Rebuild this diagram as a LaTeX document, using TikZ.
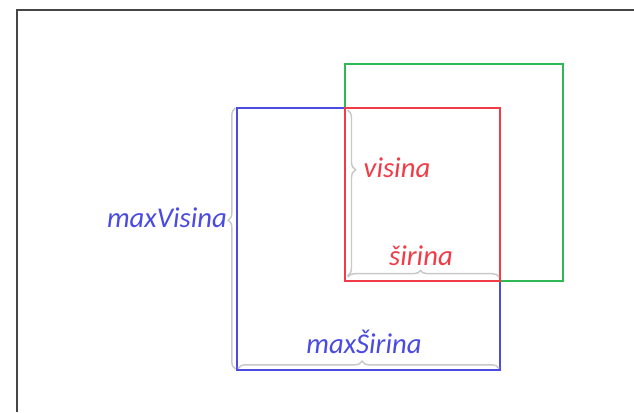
\documentclass[tikz,border=0pt]{standalone}
\usepackage{fontspec}
\setmainfont{Carlito}
\usetikzlibrary{decorations.pathreplacing}
\definecolor{bl}{RGB}{75,75,225}
\definecolor{rd}{RGB}{240,60,70}
\definecolor{gr}{RGB}{45,185,85}
\definecolor{br}{RGB}{200,200,200}
\definecolor{fr}{RGB}{70,70,70}
\tikzset{
  bracel/.style={draw=br, line width=1.1pt, decorate},
  lbl/.style={font=\fontsize{21.5}{24}\selectfont\itshape, inner sep=0pt}
}
\begin{document}
\begin{tikzpicture}[x=0.75pt,y=-0.75pt]
\useasboundingbox (0,0) rectangle (634,412);
% frame
\coordinate (f1) at (17,412);
\coordinate (f2) at (17,10);
\coordinate (f3) at (634,10);
\draw[fr, line width=1.5pt] (f1) -- (f2) -- (f3);
% rectangles
\draw[gr, line width=1.2pt] (345,64) rectangle (563,281);
\draw[bl, line width=1.2pt] (237,108) rectangle (500,370);
\draw[rd, line width=1.2pt] (345,108) rectangle (500,281);
% braces
\coordinate (lb1) at (235.5,369);
\coordinate (lb2) at (235.5,108);
\draw[bracel, decoration={brace, amplitude=5.5pt, aspect=0.57}] (lb1) -- (lb2);
\coordinate (vb1) at (347.5,110);
\coordinate (vb2) at (347.5,276);
\draw[bracel, decoration={brace, amplitude=6pt, aspect=0.36}] (vb1) -- (vb2);
\coordinate (sb1) at (348,277);
\coordinate (sb2) at (499,277);
\draw[bracel, decoration={brace, amplitude=5pt, aspect=0.48}] (sb1) -- (sb2);
\coordinate (mb1) at (238,368.5);
\coordinate (mb2) at (499,368.5);
\draw[bracel, decoration={brace, amplitude=5.5pt, aspect=0.475}] (mb1) -- (mb2);
% labels
\node[lbl, text=bl] (mv) at (167,218) {maxVisina};
\node[lbl, text=rd] (v) at (397,168) {visina};
\node[lbl, text=rd] (s) at (421,256) {širina};
\node[lbl, text=bl] (ms) at (364,342) {maxŠirina};
\end{tikzpicture}
\end{document}
